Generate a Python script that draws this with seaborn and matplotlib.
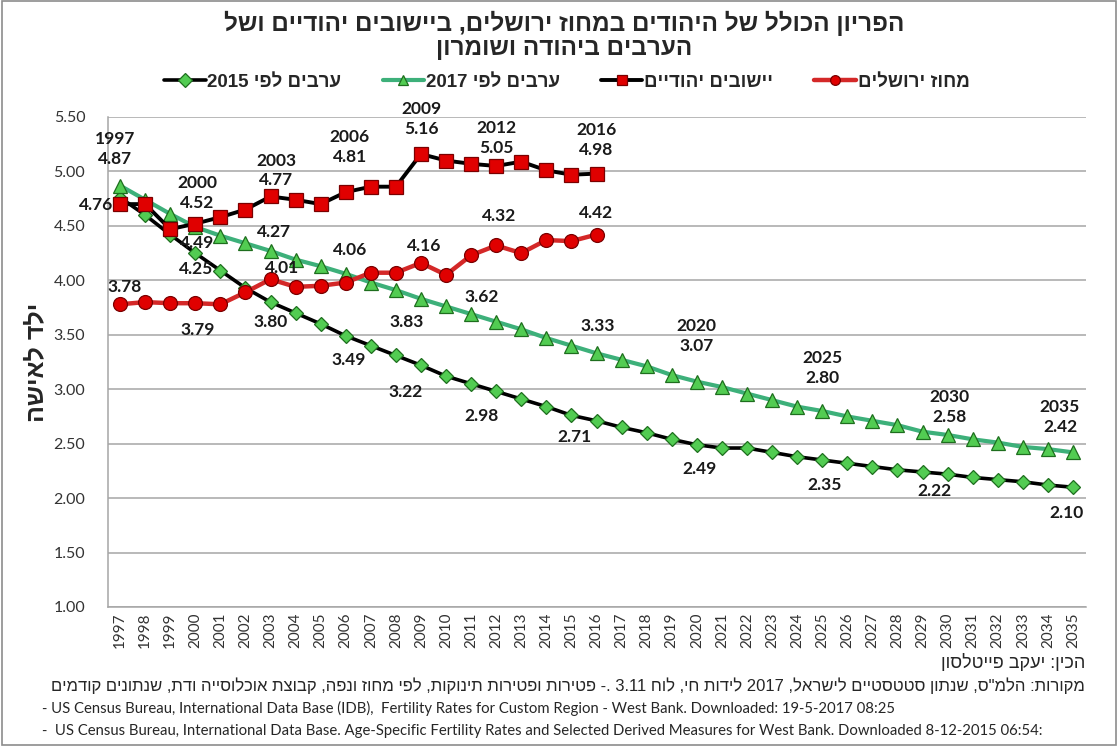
import re
import numpy as np
import pandas as pd
import matplotlib
matplotlib.use("Agg")
import matplotlib.pyplot as plt
from matplotlib.patches import Rectangle
import seaborn as sns

# ---------------- data ----------------
years_all = list(range(1997, 2036))
years_hist = list(range(1997, 2017))

jerusalem = [3.78, 3.80, 3.79, 3.79, 3.78, 3.89, 4.01, 3.94, 3.95, 3.98,
             4.07, 4.07, 4.16, 4.05, 4.23, 4.32, 4.25, 4.37, 4.36, 4.42]
settlements = [4.70, 4.70, 4.47, 4.52, 4.58, 4.65, 4.77, 4.74, 4.70, 4.81,
               4.86, 4.86, 5.16, 5.10, 5.07, 5.05, 5.09, 5.01, 4.97, 4.98]
arabs_2017 = [4.87, 4.74, 4.61, 4.49, 4.41, 4.34, 4.27, 4.19, 4.13, 4.06,
              3.98, 3.91, 3.83, 3.76, 3.69, 3.62, 3.55, 3.47, 3.40, 3.33,
              3.27, 3.21, 3.13, 3.07, 3.02, 2.96, 2.90, 2.84, 2.80, 2.75,
              2.71, 2.67, 2.61, 2.58, 2.54, 2.51, 2.47, 2.45, 2.42]
arabs_2015 = [4.76, 4.60, 4.42, 4.25, 4.09, 3.93, 3.80, 3.70, 3.60, 3.49,
              3.40, 3.31, 3.22, 3.12, 3.05, 2.98, 2.91, 2.84, 2.76, 2.71,
              2.65, 2.60, 2.54, 2.49, 2.46, 2.46, 2.42, 2.38, 2.35, 2.32,
              2.29, 2.26, 2.24, 2.22, 2.19, 2.17, 2.15, 2.12, 2.10]

name_jer = "מחוז ירושלים"
name_set = "יישובים יהודיים"
name_a17 = "ערבים לפי 2017"
name_a15 = "ערבים לפי 2015"
title_lines = ["הפריון הכולל של היהודים במחוז ירושלים, ביישובים יהודיים ושל",
               "הערבים ביהודה ושומרון"]
y_title = "ילד לאישה"
credit = "הכין: יעקב פייטלסון"
source_he = ('מקורות: הלמ"ס, שנתון סטטסטיים לישראל, 2017 לידות חי, לוח 3.11 .- '
             'פטירות ופטירות תינוקות, לפי מחוז ונפה, קבוצת אוכלוסייה ודת, שנתונים קודמים')
source_en = ["- US Census Bureau, International Data Base (IDB),  Fertility Rates for Custom Region - West Bank. Downloaded: 19-5-2017 08:25",
             "-  US Census Bureau, International Data Base. Age-Specific Fertility Rates and Selected Derived Measures for West Bank. Downloaded 8-12-2015 06:54:"]

# label layout: (year, dx px, dy px (down positive), show_year)
lab_a17 = [(1997, -5, -37, True), (2000, 2, 16, False), (2003, 4, -19, False),
           (2006, 4, -24, False), (2009, -14, 23, False), (2012, -15, -25, False),
           (2016, 1, -27, False), (2020, 0, -46, True), (2025, 0, -43, True),
           (2030, 2, -28, True), (2035, -13, -35, True)]
lab_a15 = [(1997, -24, 7, False), (2000, 1, 16, False), (2003, 0, 20, False),
           (2006, 3, 24, False), (2009, -15, 27, False), (2012, -15, 25, False),
           (2016, -22, 16, False), (2020, 3, 24, False), (2025, 2, 25, False),
           (2030, -13, 17, False), (2035, -6, 26, False)]
lab_jer = [(1997, 5, -17, False), (2000, 2, 27, False), (2003, 12, -11, False),
           (2009, 3, -17, False), (2012, 3, -29, False), (2016, 0, -22, False)]
lab_set = [(2000, 2, -31, True), (2003, 6, -26, True), (2006, 4, -45, True),
           (2009, 0, -35, True), (2012, 0, -28, True), (2016, 0, -34, True)]


def vis(s):
    """Simple RTL visual reordering (numbers kept LTR)."""
    toks = re.findall(r'\d+(?:[.:\-]\d+)*|\D+', s)
    out = []
    for t in reversed(toks):
        out.append(t if t[0].isdigit() else t[::-1])
    return ''.join(out)


# ---------------- style ----------------
sns.set_theme(style="white")
HEB = ["Liberation Sans", "DejaVu Sans"]
NUM = ["Lato", "DejaVu Sans"]
plt.rcParams["font.family"] = NUM

fig = plt.figure(figsize=(11.18, 7.46), dpi=100)
ax = fig.add_axes([107.5 / 1118, 1 - 607 / 746, (1085.5 - 107.5) / 1118, (607 - 117) / 746])

RED = "#E00000"
RED_EDGE = "#7A0000"
RED_LINE = "#D42828"
GREEN_FILL = "#52CC52"
GREEN_EDGE = "#1E6E1E"
GREEN_LINE = "#3DB07A"

df15 = pd.DataFrame({"year": years_all, "v": arabs_2015})
df17 = pd.DataFrame({"year": years_all, "v": arabs_2017})
dfs = pd.DataFrame({"year": years_hist, "v": settlements})
dfj = pd.DataFrame({"year": years_hist, "v": jerusalem})

sns.lineplot(data=df15, x="year", y="v", ax=ax, color="black", linewidth=2.6,
             marker="D", markersize=7, markerfacecolor=GREEN_FILL,
             markeredgecolor=GREEN_EDGE, markeredgewidth=0.9, zorder=2,
             label=vis(name_a15))
sns.lineplot(data=df17, x="year", y="v", ax=ax, color=GREEN_LINE, linewidth=3.0,
             marker="^", markersize=10, markerfacecolor=GREEN_FILL,
             markeredgecolor=GREEN_EDGE, markeredgewidth=0.9, zorder=3,
             label=vis(name_a17))
sns.lineplot(data=dfj, x="year", y="v", ax=ax, color=RED_LINE, linewidth=3.2,
             marker="o", markersize=10, markerfacecolor=RED,
             markeredgecolor=RED_EDGE, markeredgewidth=0.9, zorder=4,
             label=vis(name_jer))
sns.lineplot(data=dfs, x="year", y="v", ax=ax, color="black", linewidth=2.8,
             marker="s", markersize=10, markerfacecolor=RED,
             markeredgecolor=RED_EDGE, markeredgewidth=0.9, zorder=5,
             label=vis(name_set))

# data labels
def add_labels(years, vals, specs):
    for (yr, dx, dy, show_year) in specs:
        v = vals[years.index(yr)]
        txt = f"{yr}\n{v:.2f}" if show_year else f"{v:.2f}"
        ax.annotate(txt, (yr, v), xytext=(dx, -dy), textcoords="offset pixels",
                    ha="center", va="center", fontsize=12.5, fontweight="bold",
                    color="#1a1a1a", linespacing=1.3, zorder=10)

add_labels(years_all, arabs_2017, lab_a17)
add_labels(years_all, arabs_2015, lab_a15)
add_labels(years_hist, jerusalem, lab_jer)
add_labels(years_hist, settlements, lab_set)

# axes
ax.set_xlim(1996.5, 2035.5)
ax.set_ylim(1.0, 5.5)
ax.set_yticks(np.arange(1.0, 5.51, 0.5))
ax.set_yticklabels([f"{t:.2f}" for t in np.arange(1.0, 5.51, 0.5)], fontsize=11.5, color="#333333")
ax.set_xticks(years_all)
ax.set_xticklabels([str(y) for y in years_all], rotation=90, fontsize=11, color="#333333")
ax.tick_params(axis="both", length=0, pad=4)
ax.tick_params(axis="y", pad=16)
ax.yaxis.grid(True, color="#A6A6A6", linewidth=1.1)
ax.xaxis.grid(False)
for side in ["top", "right"]:
    ax.spines[side].set_visible(False)
for side in ["left", "bottom"]:
    ax.spines[side].set_color("#A6A6A6")
    ax.spines[side].set_linewidth(1.1)
ax.set_xlabel("")
ax.set_ylabel(vis(y_title), fontsize=18, fontweight="bold", family=HEB, labelpad=4)

# legend
h, l = ax.get_legend_handles_labels()
ax.get_legend().remove()
order = [vis(name_a15), vis(name_a17), vis(name_set), vis(name_jer)]
hh = [h[l.index(o)] for o in order]
leg = fig.legend(hh, order, loc="center", bbox_to_anchor=(0.507, 0.890), ncol=4,
                 frameon=False, handlelength=2.2, handletextpad=0.1, columnspacing=2.2,
                 prop={"family": HEB, "weight": "bold", "size": 13.5})
for lh in leg.legend_handles:
    lh.set_markersize(7)

# title
fig.text(0.505, 1 - 23 / 746, vis(title_lines[0]), ha="center", va="center",
         fontsize=17.5, fontweight="bold", family=HEB)
fig.text(0.505, 1 - 48 / 746, vis(title_lines[1]), ha="center", va="center",
         fontsize=17.5, fontweight="bold", family=HEB)

# sources
fig.text(1085 / 1118, 1 - 663 / 746, vis(credit), ha="right", va="center",
         fontsize=13, family=HEB)
fig.text(1085 / 1118, 1 - 686 / 746, vis(source_he), ha="right", va="center",
         fontsize=12, family=HEB)
fig.text(42 / 1118, 1 - 708 / 746, source_en[0], ha="left", va="center",
         fontsize=10.7, family=NUM)
fig.text(42 / 1118, 1 - 731 / 746, source_en[1], ha="left", va="center",
         fontsize=10.7, family=NUM)

fig.patches.append(Rectangle((0.002, 0.002), 0.996, 0.996, transform=fig.transFigure,
                             fill=False, edgecolor="#8C8C8C", linewidth=1.2))

fig.savefig("out.png", dpi=100, facecolor="white")
